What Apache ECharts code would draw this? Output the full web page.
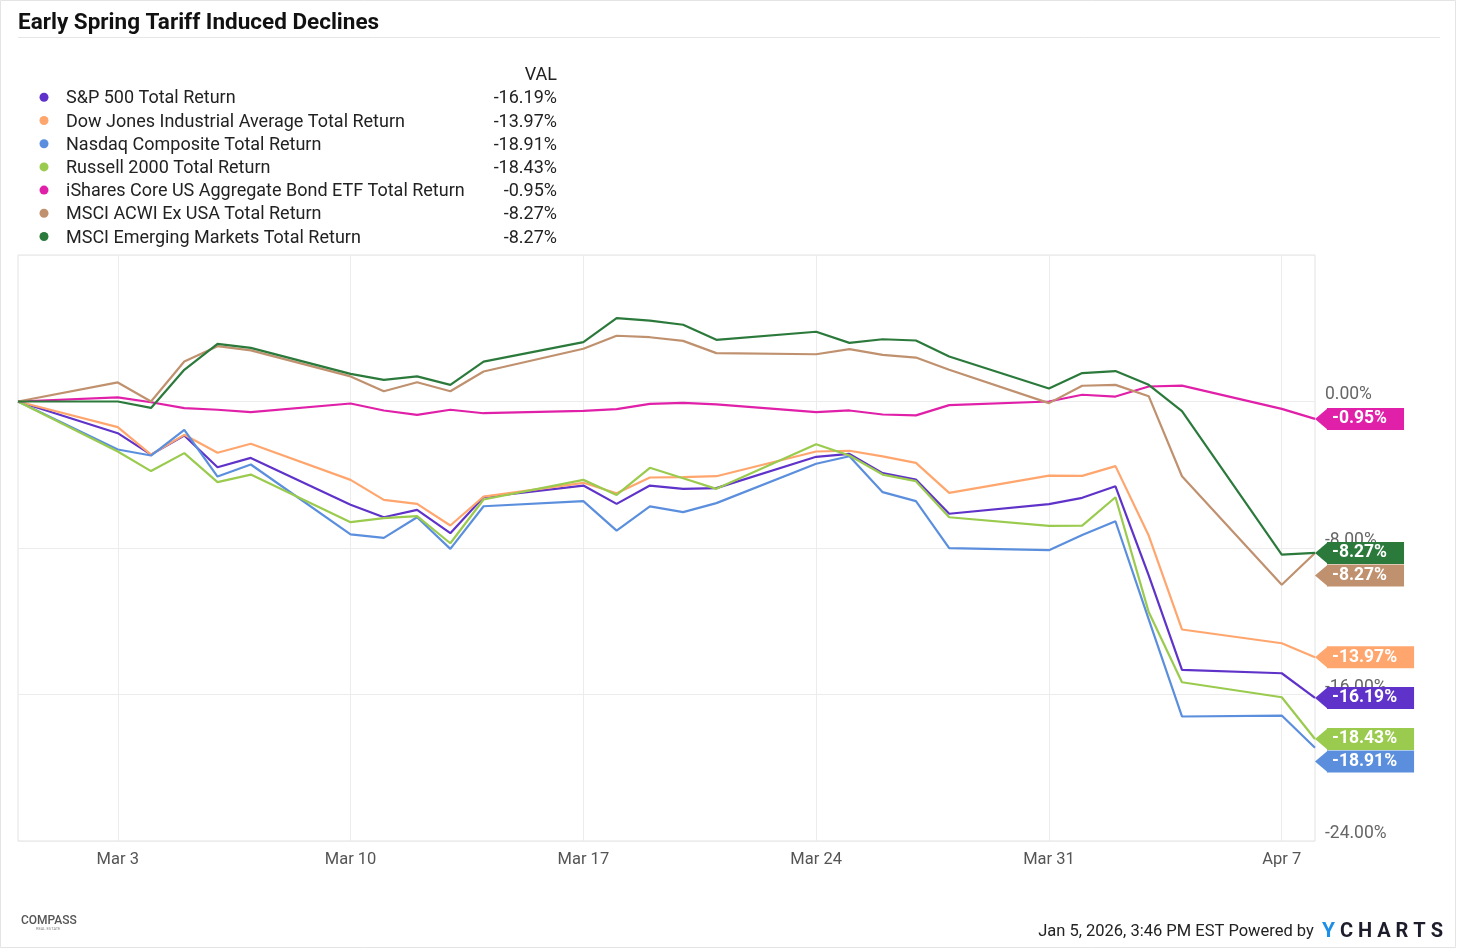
<!DOCTYPE html>
<html><head><meta charset="utf-8">
<script src="https://cdn.jsdelivr.net/npm/echarts@6/dist/echarts.min.js"></script>
<style>html,body{margin:0;padding:0;background:#fff}#c{width:1457px;height:949px}</style>
</head><body><div id="c"></div>
<script>
// ---------- DATA ----------
const dates = ['2025-02-28','2025-03-03','2025-03-04','2025-03-05','2025-03-06','2025-03-07',
  '2025-03-10','2025-03-11','2025-03-12','2025-03-13','2025-03-14',
  '2025-03-17','2025-03-18','2025-03-19','2025-03-20','2025-03-21',
  '2025-03-24','2025-03-25','2025-03-26','2025-03-27','2025-03-28',
  '2025-03-31','2025-04-01','2025-04-02','2025-04-03','2025-04-04',
  '2025-04-07','2025-04-08'];
const xTickDates = ['2025-03-03','2025-03-10','2025-03-17','2025-03-24','2025-03-31','2025-04-07'];
const xMin = '2025-02-28';
const xMax = '2025-04-08';
const seriesNames = ['S&P 500 Total Return','Dow Jones Industrial Average Total Return','Nasdaq Composite Total Return',
  'Russell 2000 Total Return','iShares Core US Aggregate Bond ETF Total Return','MSCI ACWI Ex USA Total Return',
  'MSCI Emerging Markets Total Return'];
const sp500   = [0,-1.73,-2.9,-1.86,-3.59,-3.08,-5.64,-6.32,-5.92,-7.19,-5.22,-4.59,-5.59,-4.59,-4.77,-4.73,-3.02,-2.86,-3.91,-4.26,-6.13,-5.6,-5.26,-4.63,-9.5,-14.65,-14.84,-16.19];
const dow     = [0,-1.40,-2.9,-1.82,-2.8,-2.31,-4.28,-5.37,-5.59,-6.77,-5.19,-4.44,-5.01,-4.15,-4.13,-4.08,-2.73,-2.69,-3.0,-3.35,-4.99,-4.05,-4.06,-3.53,-7.32,-12.45,-13.2,-13.97];
const nasdaq  = [0,-2.62,-2.95,-1.55,-4.1,-3.44,-7.26,-7.45,-6.32,-8.05,-5.72,-5.44,-7.05,-5.73,-6.04,-5.55,-3.40,-2.99,-4.95,-5.44,-8.01,-8.12,-7.29,-6.54,-11.9,-17.2,-17.15,-18.91];
const russell = [0,-2.73,-3.8,-2.82,-4.4,-3.99,-6.59,-6.37,-6.26,-7.74,-5.35,-4.28,-5.1,-3.62,-4.19,-4.77,-2.33,-2.95,-3.99,-4.35,-6.32,-6.79,-6.78,-5.23,-11.5,-15.33,-16.15,-18.43];
const agg     = [0,0.23,-0.04,-0.36,-0.45,-0.58,-0.11,-0.49,-0.73,-0.45,-0.64,-0.51,-0.42,-0.13,-0.07,-0.16,-0.58,-0.49,-0.71,-0.76,-0.2,0.0,0.37,0.27,0.82,0.87,-0.4,-0.95];
const acwiExUs= [0,1.04,0.0,2.18,3.02,2.79,1.37,0.56,1.05,0.56,1.64,2.88,3.59,3.51,3.31,2.64,2.58,2.86,2.55,2.40,1.73,-0.09,0.86,0.91,0.29,-4.08,-10.01,-8.27];
const emerging= [0,0.0,-0.35,1.73,3.15,2.93,1.51,1.18,1.37,0.91,2.18,3.24,4.55,4.42,4.19,3.37,3.81,3.2,3.4,3.33,2.46,0.71,1.55,1.66,0.91,-0.53,-8.36,-8.27];
const yMin = -24, yMax = 8, yInterval = 8;

// ---------- STYLE ----------
const colors = ['#5f33c9','#ffa66e','#5b8fdd','#9acb4e','#e020a8','#c0916f','#2b7a3c'];
const FONT = 'Roboto, "Noto Sans", sans-serif';
const allValues = [sp500, dow, nasdaq, russell, agg, acwiExUs, emerging];

// x values are calendar-day offsets from xMin (computed from the date strings)
const DAY = 86400000;
const toMs = s => { const [y,m,d] = s.split('-').map(Number); return Date.UTC(y, m-1, d); };
const dayOff = s => Math.round((toMs(s) - toMs(xMin)) / DAY);
const MONTHS = ['Jan','Feb','Mar','Apr','May','Jun','Jul','Aug','Sep','Oct','Nov','Dec'];
const fmtDay = v => { const d = new Date(toMs(xMin) + Math.round(v) * DAY); return MONTHS[d.getUTCMonth()] + ' ' + d.getUTCDate(); };
const fmtPct = v => v.toFixed(2) + '%';

const chart = echarts.init(document.getElementById('c'), null, {renderer:'canvas'});

const series = seriesNames.map((name, i) => ({
  name, type: 'line', symbol: 'none', showSymbol: false,
  lineStyle: {width: 2.2, color: colors[i]}, itemStyle: {color: colors[i]},
  data: dates.map((d, k) => [dayOff(d), allValues[i][k]]),
  z: 2 + i, silent: true
}));

const graphics = [];
graphics.push({type:'rect', shape:{x:0.5,y:0.5,width:1455,height:947}, style:{fill:'none', stroke:'#e4e4e4', lineWidth:1}, silent:true});
graphics.push({type:'text', x:18, y:23.5, style:{text:'Early Spring Tariff Induced Declines', font:'bold 22.5px '+FONT, fill:'#111', verticalAlign:'middle'}});
graphics.push({type:'line', shape:{x1:18,y1:37.5,x2:1440,y2:37.5}, style:{stroke:'#e6e6e6', lineWidth:1}});
graphics.push({type:'text', x:557, y:75.5, style:{text:'VAL', font:'18px '+FONT, fill:'#222', align:'right', verticalAlign:'middle'}});
seriesNames.forEach((name, i) => {
  const y = 98.8 + i * 23.2;
  const lastVal = allValues[i][allValues[i].length - 1];
  graphics.push({type:'circle', shape:{cx:44, cy:y - 1.5, r:4.5}, style:{fill:colors[i]}});
  graphics.push({type:'text', x:66, y:y, style:{text:name, font:'18px '+FONT, fill:'#222', verticalAlign:'middle'}});
  graphics.push({type:'text', x:557, y:y, style:{text:fmtPct(lastVal), font:'18px '+FONT, fill:'#222', align:'right', verticalAlign:'middle'}});
});
graphics.push({type:'text', x:21, y:921, style:{text:'COMPASS', font:'500 12px '+FONT, fill:'#555', verticalAlign:'middle'}});
graphics.push({type:'text', x:36, y:929, style:{text:'REAL ESTATE', font:'4px '+FONT, fill:'#888', verticalAlign:'middle'}});
graphics.push({type:'text', x:1443, y:932, style:{
  text:'{a|Jan 5, 2026, 3:46 PM EST Powered by  }{y|Y}{b| C H A R T S}',
  align:'right', verticalAlign:'middle',
  rich:{a:{font:'16.5px '+FONT, fill:'#222'}, y:{font:'bold 21px '+FONT, fill:'#1d8fe6'}, b:{font:'bold 20px '+FONT, fill:'#1c1c2b'}}
}});

const xTicks = xTickDates.map(dayOff);
chart.setOption({
  animation: false,
  backgroundColor: '#fff',
  grid: {left:18, top:255, right:142, bottom:108, show:true, borderColor:'#e2e2e2', borderWidth:1, containLabel:false},
  xAxis: {
    type:'value', min: 0, max: dayOff(xMax),
    axisLine:{show:false},
    axisTick:{show:false, customValues: xTicks},
    axisLabel:{customValues: xTicks, formatter: v => fmtDay(v), color:'#555', fontSize:16.5, fontFamily:FONT, margin:10},
    splitLine:{show:true, lineStyle:{color:'#ececec', width:1}}
  },
  yAxis: {
    type:'value', position:'right', min:yMin, max:yMax, interval:yInterval,
    axisLine:{show:false}, axisTick:{show:false},
    axisLabel:{formatter: v => fmtPct(v), color:'#666', fontSize:17.5, fontFamily:FONT, margin:10, verticalAlign:'bottom', showMaxLabel:false, lineHeight:14},
    splitLine:{show:true, lineStyle:{color:'#ececec', width:1}}
  },
  series,
  graphic: graphics
});

const lastIdx = dates.length - 1;
let tags = allValues.map((vals, i) => {
  const p = chart.convertToPixel({gridIndex:0}, [dayOff(dates[lastIdx]), vals[lastIdx]]);
  return {i, x:p[0], y:p[1], v:vals[lastIdx]};
});
tags.sort((a, b) => (a.y - b.y) || (b.i - a.i));
let prev = -Infinity;
tags.forEach(t => { t.ty = Math.max(t.y, prev + 22.5); prev = t.ty; });
const tagGraphics = [];
tags.forEach(t => {
  const c = colors[t.i];
  tagGraphics.push({type:'polygon', z:100, shape:{points:[[t.x, t.ty],[t.x+13, t.ty-11],[t.x+13, t.ty+11]]}, style:{fill:c}});
  tagGraphics.push({type:'text', z:100, x:t.x+12, y:t.ty, style:{
    text: fmtPct(t.v), font:'bold 17.5px '+FONT, fill:'#fff', verticalAlign:'middle',
    backgroundColor:c, padding:[3,17,3,5], lineHeight:16
  }});
});
chart.setOption({graphic: graphics.concat(tagGraphics)}, {replaceMerge:['graphic']});
</script>
</body></html>
